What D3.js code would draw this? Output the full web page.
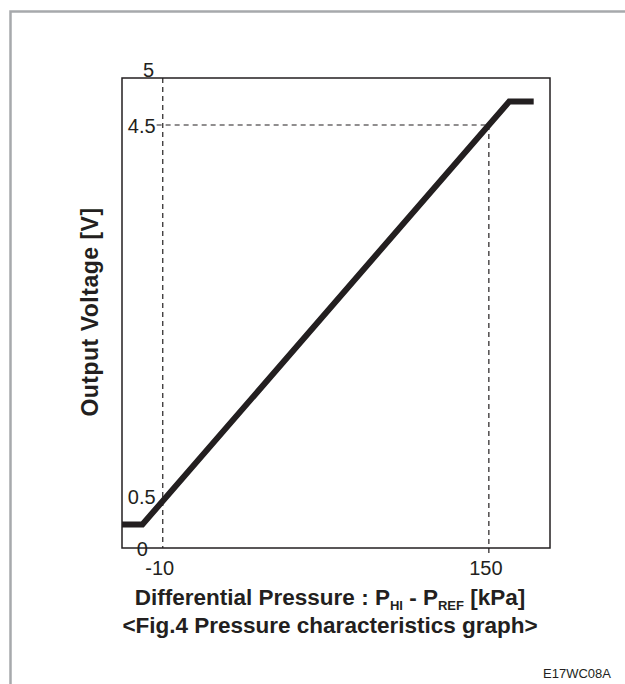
<!DOCTYPE html>
<html>
<head>
<meta charset="utf-8">
<script src="https://cdn.jsdelivr.net/npm/d3@7"></script>
<style>
  html, body { margin: 0; padding: 0; background: #fff; }
  svg { display: block; }
  text { font-family: "Liberation Sans", Arial, sans-serif; fill: #231f20; }
</style>
</head>
<body>
<svg id="chart" width="625" height="684"></svg>
<script>
// ---- data ----
const pressure = [-30, -20, 160, 172];       // kPa
const voltage  = [0.25, 0.25, 4.75, 4.75];   // V
const xTickValues = [-10, 150];
const yTickValues = [0, 0.5, 4.5, 5];
const xDomain = [-30, 180];
const yDomain = [0, 5];
const yTitle = "Output Voltage [V]";
const caption = "<Fig.4 Pressure characteristics graph>";
const codeLabel = "E17WC08A";

const svg = d3.select("#chart");
const W = 625, H = 684;
const m = { left: 122, right: 550, top: 78, bottom: 548 };
const ink = "#231f20";

// outer gray frame
svg.append("path")
  .attr("d", `M10.5,${H} L10.5,11.5 L${W},11.5`)
  .attr("fill", "none").attr("stroke", "#a7a9ac").attr("stroke-width", 2.5);

const x = d3.scaleLinear().domain(xDomain).range([m.left, m.right]);
const y = d3.scaleLinear().domain(yDomain).range([m.bottom, m.top]);

// plot box
svg.append("rect")
  .attr("x", x(xDomain[0])).attr("y", y(yDomain[1]))
  .attr("width", x(xDomain[1]) - x(xDomain[0]))
  .attr("height", y(yDomain[0]) - y(yDomain[1]))
  .attr("fill", "none").attr("stroke", ink).attr("stroke-width", 1.5);

// dashed guide lines
const dash = "5,4";
svg.append("line")
  .attr("x1", x(-10)).attr("x2", x(-10))
  .attr("y1", y(5)).attr("y2", y(0))
  .attr("stroke", ink).attr("stroke-width", 1.2).attr("stroke-dasharray", dash);
svg.append("line")
  .attr("x1", x(-13)).attr("x2", x(150))
  .attr("y1", y(4.5)).attr("y2", y(4.5))
  .attr("stroke", ink).attr("stroke-width", 1.2).attr("stroke-dasharray", dash);
svg.append("line")
  .attr("x1", x(150)).attr("x2", x(150))
  .attr("y1", y(4.5)).attr("y2", y(0) + 8)
  .attr("stroke", ink).attr("stroke-width", 1.2).attr("stroke-dasharray", dash);

// characteristic line
const pts = pressure.map((p, i) => [p, voltage[i]]);
svg.append("path")
  .datum(pts)
  .attr("d", d3.line().x(d => x(d[0])).y(d => y(d[1])))
  .attr("fill", "none").attr("stroke", ink).attr("stroke-width", 6)
  .attr("stroke-linejoin", "miter");

// y tick labels
const fmt = d => String(d);
svg.selectAll(".ytick").data(yTickValues).enter().append("text")
  .attr("class", "ytick")
  .attr("x", d => (d === 5 ? x(-17) : d === 0 ? x(-20) : x(-13.5)))
  .attr("y", d => (d === 5 ? y(d) - 8 : y(d) - (d === 0.5 ? 4 : -1)))
  .attr("text-anchor", d => (d === 5 || d === 0 ? "middle" : "end"))
  .attr("dominant-baseline", "central")
  .attr("font-size", 20)
  .text(fmt);

// x tick labels
svg.selectAll(".xtick").data(xTickValues).enter().append("text")
  .attr("class", "xtick")
  .attr("x", d => x(d) - 3)
  .attr("y", y(0) + 27)
  .attr("text-anchor", "middle")
  .attr("font-size", 20)
  .text(fmt);

// y title
svg.append("text")
  .attr("transform", `translate(98,${(m.top + m.bottom) / 2 - 1}) rotate(-90)`)
  .attr("text-anchor", "middle")
  .attr("font-size", 23).attr("font-weight", "bold")
  .attr("letter-spacing", 0.5)
  .text(yTitle);

// x title with subscripts
const xt = svg.append("text")
  .attr("x", 330).attr("y", 605)
  .attr("text-anchor", "middle")
  .attr("font-size", 22.5).attr("font-weight", "bold");
xt.append("tspan").text("Differential Pressure : P");
xt.append("tspan").attr("font-size", 13).attr("dy", 5).text("HI");
xt.append("tspan").attr("dy", -5).text(" - P");
xt.append("tspan").attr("font-size", 13).attr("dy", 5).text("REF");
xt.append("tspan").attr("dy", -5).text(" [kPa]");

svg.append("text")
  .attr("x", 330).attr("y", 633)
  .attr("text-anchor", "middle")
  .attr("font-size", 22.5).attr("font-weight", "bold")
  .text(caption);

svg.append("text")
  .attr("x", 611).attr("y", 678)
  .attr("text-anchor", "end")
  .attr("font-size", 13)
  .text(codeLabel);
</script>
</body>
</html>
